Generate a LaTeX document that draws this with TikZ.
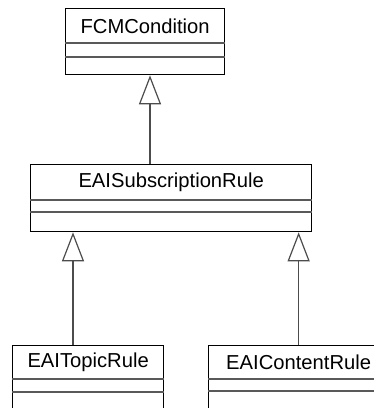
\documentclass[tikz,border=0pt]{standalone}
\usepackage{fontspec}
\setmainfont{Liberation Sans}
\usetikzlibrary{arrows.meta,calc}
\tikzset{
  classbox/.style={draw=black, line width=1.3pt, fill=white, rectangle, anchor=north west, inner sep=0pt},
  classname/.style={font=\fontsize{20.2}{24}\selectfont, text=black, inner sep=0pt},
  sepline/.style={draw=black!65, line width=1.2pt},
  gen/.style={draw=black!70, line width=1.2pt, -{Triangle[open, length=29pt, width=22pt, fill=white]}}
}
\begin{document}
\begin{tikzpicture}[x=1pt,y=-1pt]
\useasboundingbox (0,0) rectangle (374,408);
\clip (0,0) rectangle (374,408);
% FCMCondition
\node[classbox, minimum width=159pt, minimum height=66pt] (fcm) at (65,8) {};
\node[classname] (fcmt) at ($(fcm.north)+(0,18)$) {FCMCondition};
\draw[sepline] ($(fcm.north west)+(0,35)$) -- ($(fcm.north east)+(0,35)$);
\draw[sepline] ($(fcm.north west)+(0,49)$) -- ($(fcm.north east)+(0,49)$);
% EAISubscriptionRule
\node[classbox, minimum width=281pt, minimum height=67pt] (sub) at (30,164) {};
\node[classname] (subt) at ($(sub.north)+(0,18)$) {EAISubscriptionRule};
\draw[sepline] ($(sub.north west)+(0,36)$) -- ($(sub.north east)+(0,36)$);
\draw[sepline] ($(sub.north west)+(0,48)$) -- ($(sub.north east)+(0,48)$);
% EAITopicRule
\node[classbox, minimum width=151pt, minimum height=70pt] (topic) at (12,345) {};
\node[classname] (topict) at ($(topic.north)+(0,17)$) {EAITopicRule};
\draw[sepline] ($(topic.north west)+(0,34)$) -- ($(topic.north east)+(0,34)$);
\draw[sepline] ($(topic.north west)+(0,47)$) -- ($(topic.north east)+(0,47)$);
% EAIContentRule
\node[classbox, minimum width=180pt, minimum height=70pt] (content) at (208,345) {};
\node[classname] (contentt) at ($(content.north)+(0,17)$) {EAIContentRule};
\draw[sepline] ($(content.north west)+(0,34)$) -- ($(content.north east)+(0,34)$);
\draw[sepline] ($(content.north west)+(0,46)$) -- ($(content.north east)+(0,46)$);
% generalizations
\coordinate (c1) at ($(sub.north west)+(120,0)$);
\draw[gen] (c1) -- (c1 |- fcm.south);
\coordinate (c2) at ($(topic.north west)+(61,0)$);
\draw[gen] (c2) -- (c2 |- sub.south);
\coordinate (c3) at (content.north);
\draw[gen] (c3) -- (c3 |- sub.south);
\end{tikzpicture}
\end{document}
